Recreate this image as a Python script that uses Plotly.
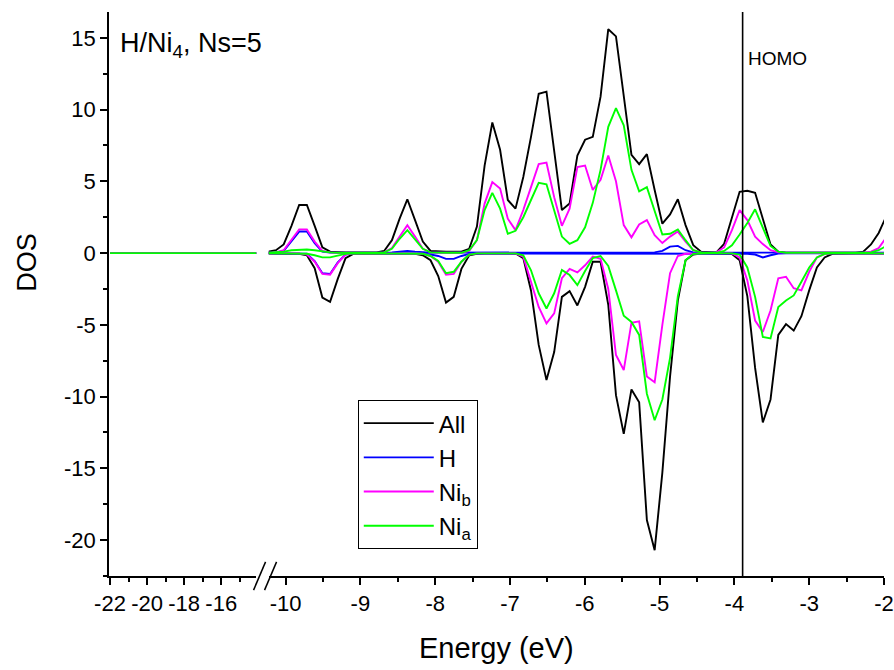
import plotly.graph_objects as go

# ---------------- data ----------------
energy = [-10.231, -10.128, -10.025, -9.921, -9.818, -9.715, -9.611, -9.508, -9.405, -9.302,
          -9.198, -9.095, -8.992, -8.888, -8.785, -8.682, -8.578, -8.475, -8.372, -8.269,
          -8.165, -8.062, -7.959, -7.855, -7.752, -7.649, -7.545, -7.442, -7.339, -7.236,
          -7.132, -7.029, -6.926, -6.822, -6.719, -6.616, -6.512, -6.409, -6.306, -6.203,
          -6.099, -5.996, -5.893, -5.789, -5.686, -5.583, -5.479, -5.376, -5.273, -5.170,
          -5.066, -4.963, -4.860, -4.756, -4.653, -4.550, -4.446, -4.343, -4.240, -4.137,
          -4.033, -3.930, -3.827, -3.723, -3.620, -3.517, -3.413, -3.310, -3.207, -3.104,
          -3.000, -2.897, -2.794, -2.690, -2.587, -2.484, -2.380, -2.277, -2.174, -2.071,
          -1.967]

all_up = [0.1, 0.2, 0.6, 1.9, 3.35, 3.35, 1.9, 0.4, 0.1, 0.05,
          0.05, 0.05, 0.05, 0.05, 0.05, 0.15, 0.9, 2.4, 3.75, 2.3,
          0.8, 0.15, 0.1, 0.1, 0.1, 0.1, 0.3, 1.85, 6.1, 9.1,
          7.2, 3.7, 3.1, 5.3, 8.1, 11.1, 11.25, 6.95, 3.0, 3.45,
          6.8, 7.9, 8.1, 10.9, 15.6, 15.1, 10.9, 6.85, 6.2, 6.9,
          4.4, 2.05, 2.7, 3.75, 1.95, 0.55, 0.1, 0.05, 0.05, 0.65,
          2.4, 4.27, 4.34, 4.2, 2.4, 0.6, 0.1, 0.03, 0.03, 0.03,
          0.03, 0.03, 0.03, 0.03, 0.03, 0.03, 0.03, 0.1, 0.6, 1.4,
          2.6]
all_dn = [-0.03, -0.05, -0.05, -0.05, -0.05, -0.15, -1.05, -3.1, -3.4, -1.8,
          -0.35, -0.05, -0.03, -0.03, -0.03, -0.03, -0.03, -0.03, -0.03, -0.05,
          -0.15, -0.5, -1.6, -3.45, -3.05, -1.1, -0.15, -0.05, -0.03, -0.03,
          -0.03, -0.03, -0.03, -0.35, -2.6, -6.4, -8.85, -6.9, -3.05, -2.65,
          -3.65, -2.35, -0.6, -0.6, -3.6, -9.9, -12.6, -9.5, -10.4, -18.6,
          -20.7, -15.3, -8.6, -3.3, -0.5, -0.1, -0.03, -0.03, -0.03, -0.03,
          -0.07, -0.5, -3.0, -8.0, -11.8, -10.2, -5.7, -4.95, -5.4, -4.4,
          -2.6, -1.0, -0.3, -0.05, -0.03, -0.03, -0.03, -0.03, -0.03, -0.03,
          -0.03]

h_up = [0.02, 0.05, 0.15, 0.8, 1.5, 1.5, 0.7, 0.1, 0.03, 0.02,
        0.02, 0.02, 0.02, 0.02, 0.02, 0.03, 0.05, 0.1, 0.15, 0.1,
        0.05, 0.03, 0.03, 0.03, 0.03, 0.03, 0.03, 0.03, 0.03, 0.05,
        0.05, 0.05, 0.05, 0.05, 0.05, 0.05, 0.05, 0.05, 0.05, 0.05,
        0.05, 0.05, 0.05, 0.08, 0.08, 0.08, 0.05, 0.05, 0.05, 0.05,
        0.05, 0.15, 0.45, 0.5, 0.2, 0.05, 0.03, 0.03, 0.03, 0.03,
        0.03, 0.03, 0.03, 0.03, 0.03, 0.03, 0.03, 0.03, 0.03, 0.03,
        0.03, 0.03, 0.03, 0.03, 0.03, 0.03, 0.03, 0.03, 0.03, 0.03,
        0.03]
h_dn = [-0.02, -0.02, -0.02, -0.02, -0.02, -0.05, -0.55, -1.4, -1.45, -0.65,
        -0.1, -0.02, -0.02, -0.02, -0.02, -0.02, -0.02, -0.02, -0.02, -0.02,
        -0.05, -0.1, -0.2, -0.4, -0.4, -0.2, -0.05, -0.02, -0.02, -0.02,
        -0.02, -0.02, -0.02, -0.02, -0.02, -0.02, -0.02, -0.02, -0.02, -0.02,
        -0.02, -0.02, -0.02, -0.02, -0.02, -0.02, -0.02, -0.02, -0.02, -0.02,
        -0.02, -0.02, -0.02, -0.02, -0.02, -0.02, -0.02, -0.02, -0.02, -0.02,
        -0.02, -0.02, -0.05, -0.1, -0.3, -0.15, -0.03, -0.02, -0.02, -0.02,
        -0.02, -0.02, -0.02, -0.02, -0.02, -0.02, -0.02, -0.02, -0.02, -0.02,
        -0.02]

nib_up = [0.02, 0.05, 0.2, 0.9, 1.65, 1.65, 0.8, 0.15, 0.05, 0.02,
          0.02, 0.02, 0.02, 0.02, 0.02, 0.05, 0.35, 1.15, 1.95, 1.15,
          0.3, 0.05, 0.02, 0.02, 0.02, 0.02, 0.15, 0.9, 3.45, 4.95,
          4.5, 2.4, 1.6, 3.0, 4.6, 6.2, 6.3, 3.9, 1.9, 3.1,
          6.0, 6.1, 4.4, 5.1, 6.8, 5.0, 1.95, 1.1, 2.0, 2.3,
          1.25, 0.7, 1.15, 1.5, 0.8, 0.2, 0.05, 0.02, 0.05, 0.4,
          1.6, 3.0, 2.3, 1.15, 0.63, 0.2, 0.05, 0.02, 0.02, 0.02,
          0.02, 0.02, 0.02, 0.02, 0.02, 0.02, 0.02, 0.02, 0.1, 0.35,
          1.1]
nib_dn = [-0.02, -0.02, -0.02, -0.02, -0.02, -0.1, -0.6, -1.45, -1.5, -0.7,
          -0.1, -0.02, -0.02, -0.02, -0.02, -0.02, -0.02, -0.02, -0.02, -0.02,
          -0.05, -0.2, -0.6, -1.5, -1.45, -0.6, -0.1, -0.02, -0.02, -0.02,
          -0.02, -0.02, -0.02, -0.25, -2.0, -3.75, -4.9, -4.2, -1.75, -1.1,
          -1.35, -0.85, -0.25, -0.4, -2.5, -7.1, -8.15, -4.85, -4.75, -8.6,
          -9.0, -5.0, -1.4, -0.2, -0.05, -0.02, -0.02, -0.02, -0.02, -0.02,
          -0.02, -0.3, -1.9, -4.7, -5.5, -4.0, -1.75, -1.65, -2.45, -2.6,
          -1.3, -0.3, -0.07, -0.02, -0.02, -0.02, -0.02, -0.02, -0.02, -0.02,
          -0.02]

nia_up = [0.02, 0.05, 0.1, 0.2, 0.25, 0.25, 0.2, 0.1, 0.05, 0.02,
          0.02, 0.02, 0.02, 0.02, 0.02, 0.05, 0.3, 1.0, 1.6, 0.95,
          0.3, 0.05, 0.02, 0.02, 0.02, 0.02, 0.2, 0.9, 3.0, 4.2,
          3.1, 1.35, 1.55, 2.5, 3.7, 4.9, 4.8, 2.9, 1.15, 0.65,
          0.9, 1.8, 3.5, 5.8, 8.8, 10.1, 8.9, 5.8, 4.3, 4.6,
          2.9, 1.3, 1.35, 1.65, 0.9, 0.2, 0.05, 0.02, 0.02, 0.15,
          0.55, 1.3, 2.1, 3.05, 1.75, 0.5, 0.1, 0.02, 0.02, 0.02,
          0.02, 0.02, 0.02, 0.02, 0.02, 0.02, 0.02, 0.02, 0.05, 0.2,
          0.5]
nia_dn = [-0.02, -0.02, -0.02, -0.02, -0.02, -0.05, -0.15, -0.3, -0.3, -0.15,
          -0.05, -0.02, -0.02, -0.02, -0.02, -0.02, -0.02, -0.02, -0.02, -0.02,
          -0.05, -0.2, -0.55, -1.4, -1.3, -0.6, -0.1, -0.02, -0.02, -0.02,
          -0.02, -0.02, -0.02, -0.15, -1.2, -2.8, -3.86, -2.8, -1.18, -1.53,
          -2.23, -1.25, -0.35, -0.2, -0.9, -2.6, -4.37, -4.8, -5.7, -9.8,
          -11.65, -10.2, -7.3, -3.0, -0.5, -0.05, -0.02, -0.02, -0.02, -0.02,
          -0.02, -0.1, -1.0, -3.05, -5.85, -5.95, -3.75, -3.3, -2.95, -2.0,
          -1.0, -0.3, -0.05, -0.02, -0.02, -0.02, -0.02, -0.02, -0.02, -0.02,
          -0.02]

# low-energy part (left of the axis break): all curves are zero there
energy_low = [-22.0, -14.0]
dos_low = [0.0, 0.0]

HOMO = -3.89

series_names = ["All", "H", "Ni<sub>b</sub>", "Ni<sub>a</sub>"]
series_up = [all_up, h_up, nib_up, nia_up]
series_dn = [all_dn, h_dn, nib_dn, nia_dn]
series_colors = ["#000000", "#0000ff", "#ff00ff", "#00ff00"]

x1_ticks = [-22, -20, -18, -16]
x1_labels = ["-22", "-20", "-18", "-16"]
x2_ticks = [-10, -9, -8, -7, -6, -5, -4, -3, -2]
x2_labels = ["-10", "-9", "-8", "-7", "-6", "-5", "-4", "-3", "-2"]
y_ticks = [-20, -15, -10, -5, 0, 5, 10, 15]
y_labels = ["-20", "-15", "-10", "-5", "0", "5", "10", "15"]

# ---------------- figure ----------------
FONT = "Liberation Sans, Arial, sans-serif"
LW = 1.9
TICK_FS = 22

fig = go.Figure()
for name, up, dn, col in zip(series_names, series_up, series_dn, series_colors):
    fig.add_trace(go.Scatter(x=energy_low, y=dos_low, xaxis="x", yaxis="y", mode="lines",
                             line=dict(color=col, width=LW), showlegend=False,
                             legendgroup=name, hoverinfo="skip"))
    fig.add_trace(go.Scatter(x=energy, y=up, xaxis="x2", yaxis="y", mode="lines",
                             line=dict(color=col, width=LW), name=name,
                             legendgroup=name, showlegend=True))
    fig.add_trace(go.Scatter(x=energy, y=dn, xaxis="x2", yaxis="y", mode="lines",
                             line=dict(color=col, width=LW), name=name,
                             legendgroup=name, showlegend=False))

axis_common = dict(showgrid=False, zeroline=False, showline=True, linecolor="black",
                   linewidth=1.5, ticks="outside", ticklen=7, tickwidth=1.5,
                   tickcolor="black", automargin=False,
                   tickfont=dict(family=FONT, size=TICK_FS, color="black"))

fig.update_layout(
    width=894, height=670,
    margin=dict(l=109, r=10, t=12, b=94, autoexpand=False),
    paper_bgcolor="white", plot_bgcolor="white",
    font=dict(family=FONT, color="black"),
    xaxis=dict(domain=[0, 0.19], range=[-22.054, -14.11], anchor="y",
               tickmode="array", tickvals=x1_ticks, ticktext=x1_labels,
               minor=dict(dtick=1, tick0=-22, ticklen=4, tickwidth=1.5,
                          tickcolor="black", ticks="outside"),
               **axis_common),
    xaxis2=dict(domain=[0.206, 1], range=[-10.226, -2], anchor="y",
                tickmode="array", tickvals=x2_ticks, ticktext=x2_labels,
                minor=dict(dtick=0.5, tick0=-10, ticklen=4, tickwidth=1.5,
                           tickcolor="black", ticks="outside"),
                **axis_common),
    yaxis=dict(range=[-22.5, 16.8], anchor="x",
               tickmode="array", tickvals=y_ticks, ticktext=y_labels,
               minor=dict(dtick=2.5, tick0=0, ticklen=4, tickwidth=1.5,
                          tickcolor="black", ticks="outside"),
               **axis_common),
    legend=dict(x=0.321, y=0.312, xanchor="left", yanchor="top",
                bgcolor="white", bordercolor="black", borderwidth=1,
                font=dict(family=FONT, size=24, color="black"),
                tracegroupgap=0, itemwidth=70),
    showlegend=True,
)

# HOMO line
fig.add_shape(type="line", xref="x2", yref="paper", x0=HOMO, x1=HOMO, y0=0, y1=1,
              line=dict(color="black", width=1.6))

# axis break marks
for xa, xb in [(0.1865, 0.2020), (0.2007, 0.2162)]:
    fig.add_shape(type="line", xref="paper", yref="paper", x0=xa, x1=xb,
                  y0=-0.025, y1=0.025, line=dict(color="black", width=1.5))

fig.add_annotation(text="H/Ni<sub>4</sub>, Ns=5", xref="paper", yref="paper",
                   x=0.0116, y=0.975, xanchor="left", yanchor="top", showarrow=False,
                   font=dict(family=FONT, size=27, color="black"))
fig.add_annotation(text="HOMO", xref="x2", yref="paper", x=HOMO, xshift=3, y=0.918,
                   xanchor="left", yanchor="middle", showarrow=False,
                   font=dict(family=FONT, size=19, color="black"))
fig.add_annotation(text="Energy (eV)", xref="paper", yref="paper", x=0.5, y=-0.128,
                   xanchor="center", yanchor="middle", showarrow=False,
                   font=dict(family=FONT, size=29, color="black"))
fig.add_annotation(text="DOS", xref="paper", yref="paper", x=-0.106, y=0.557,
                   xanchor="center", yanchor="middle", textangle=-90, showarrow=False,
                   font=dict(family=FONT, size=27, color="black"))

fig.write_html("out.html")
